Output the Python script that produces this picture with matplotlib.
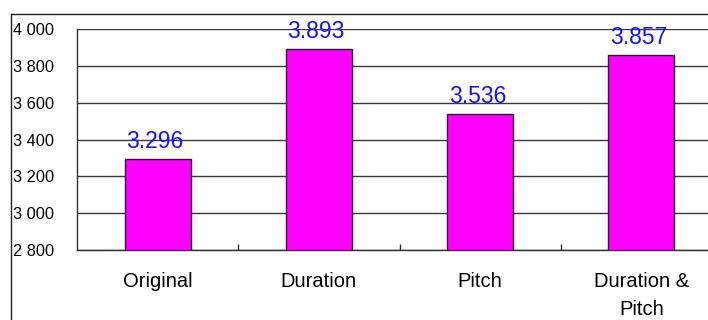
import matplotlib
matplotlib.use("Agg")
import matplotlib.pyplot as plt
from matplotlib.lines import Line2D

plt.rcParams['font.family'] = ['Liberation Sans', 'DejaVu Sans']

categories = ['Original', 'Duration', 'Pitch', 'Duration &\nPitch']
scores = [3.296, 3.893, 3.536, 3.857]
value_labels = ['3.296', '3.893', '3.536', '3.857']
y_ticks = [2.8, 3.0, 3.2, 3.4, 3.6, 3.8, 4.0]
y_tick_labels = ['2 800', '3 000', '3 200', '3 400', '3 600', '3 800', '4 000']

fig = plt.figure(figsize=(7.08, 3.2), dpi=100)
# plot area runs past the right edge of the canvas
ax = fig.add_axes([77 / 708, 70 / 320, 645 / 708, 221 / 320])

x = range(len(categories))
ax.bar(x, scores, width=0.41, color='#ff00ff', edgecolor='#202020',
       linewidth=1.0, zorder=3)

for xi, v, lab in zip(x, scores, value_labels):
    ax.annotate(lab, (xi, v), xytext=(-2, 8), textcoords='offset points',
                ha='center', va='baseline', fontsize=16.5, color='#1414ff',
                zorder=4)

ax.set_xlim(-0.5, 3.5)
ax.set_ylim(2.8, 4.0)
ax.set_yticks(y_ticks)
ax.set_yticklabels(y_tick_labels, fontsize=11.8)
ax.tick_params(axis='y', length=0, pad=16.5)

# boundary ticks between categories, labels centred under bars
ax.set_xticks([0.5, 1.5, 2.5])
ax.set_xticklabels([])
ax.tick_params(axis='x', which='major', direction='in', length=4,
               width=1, color='#303030')
ax.set_xticks(list(x), minor=True)
ax.set_xticklabels(categories, minor=True, fontsize=14.5, linespacing=1.6)
ax.tick_params(axis='x', which='minor', length=0, pad=16)

ax.grid(axis='y', color='#3a3a3a', linewidth=1.0, zorder=0)
for side in ['top', 'right']:
    ax.spines[side].set_visible(False)
for side in ['left', 'bottom']:
    ax.spines[side].set_color('#303030')
    ax.spines[side].set_linewidth(1.0)

# outer chart frame
fig.add_artist(Line2D([11 / 708, 11 / 708], [0, 1 - 14 / 320],
                      transform=fig.transFigure, color='#202020', linewidth=1.0))
fig.add_artist(Line2D([11 / 708, 1], [1 - 14 / 320, 1 - 14 / 320],
                      transform=fig.transFigure, color='#202020', linewidth=1.0))

fig.savefig('out.png', dpi=100)
